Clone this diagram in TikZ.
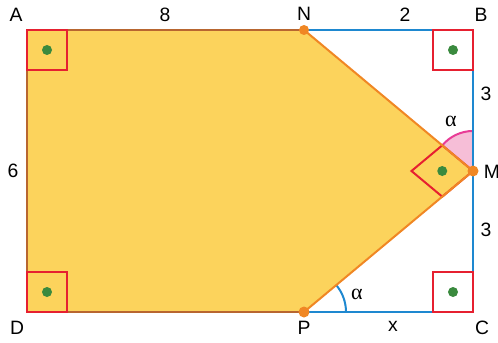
\documentclass[tikz,border=0pt]{standalone}
\usepackage{fontspec}
\setmainfont{Liberation Sans}
\newfontfamily\grserif{Liberation Serif}
\usetikzlibrary{calc}
\definecolor{fillY}{RGB}{252,211,92}
\definecolor{edgeB}{RGB}{184,102,48}
\definecolor{edgeO}{RGB}{240,135,36}
\definecolor{lineB}{RGB}{30,136,208}
\definecolor{sqR}{RGB}{230,32,48}
\definecolor{dotG}{RGB}{58,138,62}
\definecolor{pinkF}{RGB}{246,190,215}
\definecolor{pinkE}{RGB}{232,60,150}
\begin{document}
\begin{tikzpicture}[x=0.75pt,y=-0.75pt,
  lbl/.style={font=\fontsize{14.5}{17}\selectfont, inner sep=0pt, anchor=center},
  albl/.style={font=\fontsize{16.5}{18}\selectfont\grserif, inner sep=0pt, anchor=center},
  rsq/.style={draw=sqR, line width=1.5pt},
  gdot/.style={fill=dotG},
  odot/.style={fill=edgeO},
  bl/.style={draw=lineB, line width=1.5pt},
]
\useasboundingbox (0,0) rectangle (498,342);
\coordinate (A) at (27,30);
\coordinate (N) at (304,30);
\coordinate (B) at (473,30);
\coordinate (M) at (473,171);
\coordinate (C) at (473,312);
\coordinate (P) at (304,312);
\coordinate (D) at (27,312);
% polygon fill
\fill[fillY] (A) -- (N) -- (M) -- (P) -- (D) -- cycle;
% pink sector at M
\fill[pinkF] (M) -- ($(M)+(0,-40)$) arc[start angle=-90, end angle=-140.2, radius=40] -- cycle;
\draw[pinkE, line width=1.5pt] ($(M)+(0,-40)$) arc[start angle=-90, end angle=-140.2, radius=40];
% blue lines
\draw[bl] (N) -- (B) -- (C) -- (P);
% alpha arc at P
\draw[lineB, line width=1.5pt] ($(P)+(42,0)$) arc[start angle=0, end angle=-39.8, radius=42];
% right-angle square at M
\coordinate (q1) at ($(M)!0.182!(N)$);
\coordinate (q2) at ($(M)!0.182!(P)$);
\coordinate (q3) at ($(q1)+(q2)-(M)$);
\draw[rsq, line join=miter] (M) -- (q1) -- (q3) -- (q2) -- cycle;
% edges
\draw[edgeB, line width=1.5pt] (N) -- (A) -- (D) -- (P);
\draw[edgeO, line width=1.5pt, line join=round] (N) -- (M) -- (P);
% right-angle squares
\draw[rsq] (27,30) rectangle (67,70);
\draw[rsq] (27,272) rectangle (67,312);
\draw[rsq] (433,30) rectangle (473,70);
\draw[rsq] (433,272) rectangle (473,312);
% green dots
\fill[gdot] (47,50) circle[radius=5];
\fill[gdot] (47,292) circle[radius=5];
\fill[gdot] (453,50) circle[radius=5];
\fill[gdot] (453,292) circle[radius=5];
\fill[gdot] ($(q1)!0.5!(q2)$) circle[radius=5];
% orange points
\fill[odot] (N) circle[radius=5];
\fill[odot] (M) circle[radius=5.5];
\fill[odot] (P) circle[radius=5.5];
% labels
\node[lbl] (lA) at (16,15) {A};
\node[lbl] (l8) at (165,15) {8};
\node[lbl] (lN) at (304,14) {N};
\node[lbl] (l2) at (405,15) {2};
\node[lbl] (lB) at (481,15) {B};
\node[lbl] (l3a) at (486,94) {3};
\node[lbl] (lM) at (492,172) {M};
\node[lbl] (l3b) at (486,230) {3};
\node[lbl] (l6) at (13,171) {6};
\node[lbl] (lD) at (17,328) {D};
\node[lbl] (lP) at (304,328) {P};
\node[lbl] (lx) at (393,326) {x};
\node[lbl] (lC) at (482,328) {C};
\node[albl] (aM) at (451,121) {α};
\node[albl] (aP) at (357,294) {α};
\end{tikzpicture}
\end{document}
